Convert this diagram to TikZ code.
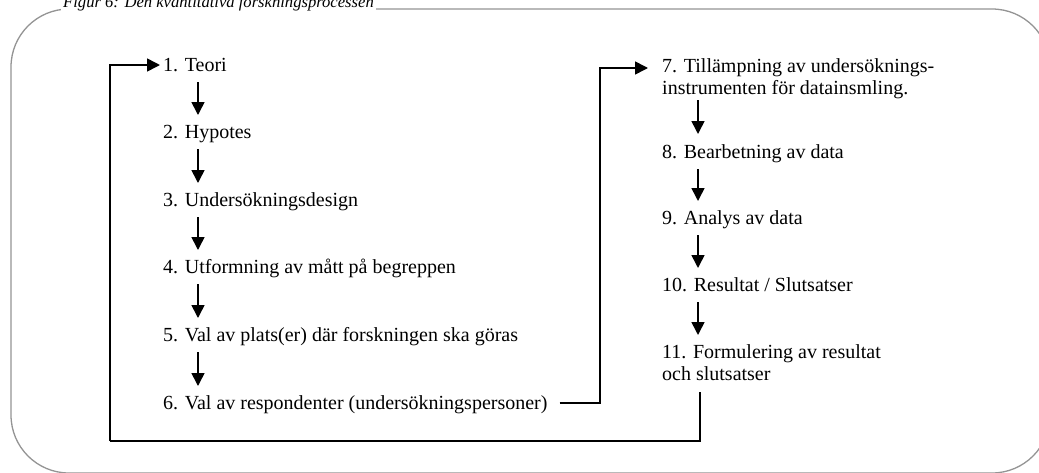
\documentclass[tikz,border=0pt]{standalone}
\usepackage{fontspec}
\setmainfont{Liberation Serif}
\usetikzlibrary{arrows.meta}
\begin{document}
\begin{tikzpicture}[x=1pt,y=-1pt,
  item/.style={anchor=base west,inner sep=0pt,font=\fontsize{20}{22}\selectfont},
  flow/.style={line width=1.6pt,-{Triangle[length=13pt,width=13pt]}},
  wire/.style={line width=1.6pt},
  frame/.style={draw=black!42,line width=1.3pt,rounded corners=58pt},
  caption/.style={anchor=base west,fill=white,inner xsep=2pt,inner ysep=1pt,
    font=\fontsize{16.6}{20}\selectfont\itshape}]
\useasboundingbox (0,0) rectangle (1039,472);
\begin{scope}
\clip (0,0) rectangle (1039,472);
% outer rounded frame with its caption on the top edge
\draw[frame] (11,9) rectangle (1050,473);
\node[caption] (cap) at (61,7) {Figur 6: Den kvantitativa forskningsprocessen};

% left column of steps
\node[item] (t1) at (163,71)  {1. Teori};
\node[item] (t2) at (163,138) {2. Hypotes};
\node[item] (t3) at (163,206) {3. Undersökningsdesign};
\node[item] (t4) at (163,273) {4. Utformning av mått på begreppen};
\node[item] (t5) at (163,341) {5. Val av plats(er) där forskningen ska göras};
\node[item] (t6) at (163,409) {6. Val av respondenter (undersökningspersoner)};

% right column of steps
\node[item] (t7)  at (662,72)  {7. Tillämpning av undersöknings-};
\node[item] (t7b) at (662,94)  {instrumenten för datainsmling.};
\node[item] (t8)  at (662,158) {8. Bearbetning av data};
\node[item] (t9)  at (662,224) {9. Analys av data};
\node[item] (t10) at (662,291) {10. Resultat / Slutsatser};
\node[item] (t11) at (662,358) {11. Formulering av resultat};
\node[item] (t11b) at (662,380) {och slutsatser};

% downward arrows between consecutive steps
\foreach \a/\b in {t1/t2,t2/t3,t3/t4,t4/t5,t5/t6}
  \draw[flow] ([xshift=35pt,yshift=-11pt]\a.base west) -- ([xshift=35pt,yshift=23pt]\b.base west);
\draw[flow] ([xshift=36pt,yshift=-6pt]t7b.base west) -- ([xshift=36pt,yshift=24pt]t8.base west);
\foreach \a/\b in {t8/t9,t9/t10,t10/t11}
  \draw[flow] ([xshift=36pt,yshift=-11pt]\a.base west) -- ([xshift=36pt,yshift=23pt]\b.base west);

% step 6 leads over to step 7
\coordinate (r6) at ([xshift=12pt,yshift=6pt]t6.base east);
\coordinate (up7) at (600,0);
\draw[flow] (r6) -- (r6 -| up7) |- ([xshift=-14pt,yshift=4pt]t7.base west);

% step 11 feeds back to step 1
\coordinate (d11) at ([xshift=38pt,yshift=-12pt]t11b.base west);
\coordinate (low) at (0,441);
\coordinate (lft) at (110,0);
\draw[wire] (d11) -- (d11 |- low) -- (lft |- low);
\draw[flow] (lft |- low) |- ([xshift=-3pt,yshift=6pt]t1.base west);
\end{scope}
\end{tikzpicture}
\end{document}
